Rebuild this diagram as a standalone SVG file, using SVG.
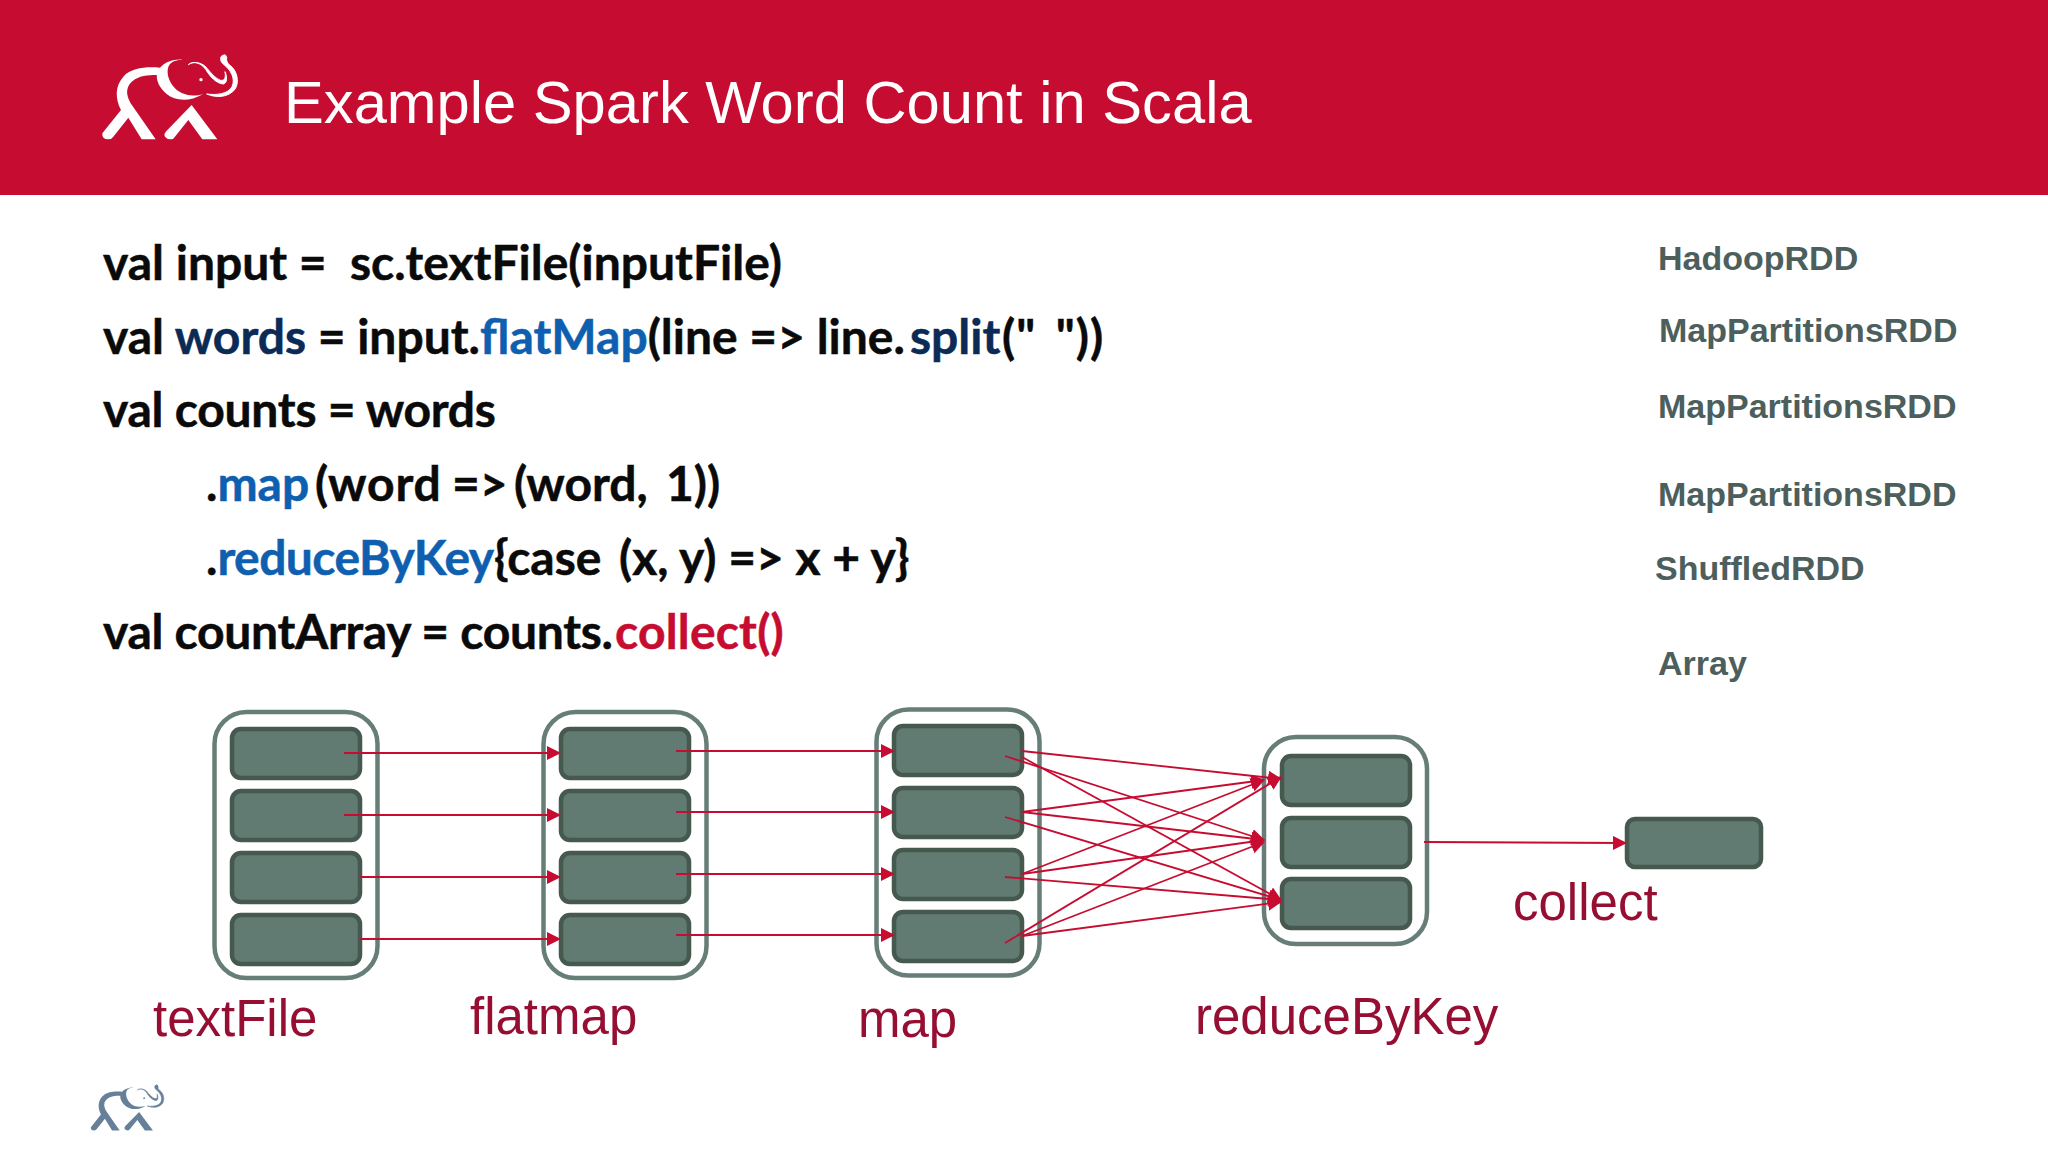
<svg xmlns="http://www.w3.org/2000/svg" width="2048" height="1152" viewBox="0 0 2048 1152">
<style>
.code{font-family:Lato,"Liberation Sans",sans-serif;font-weight:700;font-size:48px;fill:#0a0a0a;stroke:#0a0a0a;stroke-width:.5}
.blue{fill:#0f5fb0;stroke:#0f5fb0}.navy{fill:#0b2a55;stroke:#0b2a55}.red{fill:#c60c30;stroke:#c60c30}
.rdd{font-family:"Liberation Sans",Arial,sans-serif;font-weight:700;font-size:34px;fill:#4c5f5c}
.op{font-family:"Liberation Sans",Arial,sans-serif;font-size:51px;fill:#960f33}
.outer{fill:#fff;stroke:#667d78;stroke-width:4.5}
.inner{fill:#617a72;stroke:#46594f;stroke-width:4.5}
.c{stroke:#c60c30;stroke-width:1.8;fill:none;marker-end:url(#a)}
</style>
<defs>
<marker id="a" markerUnits="userSpaceOnUse" markerWidth="14" markerHeight="14" refX="13" refY="7" orient="auto"><path d="M0 0L14 7L0 14Z" fill="#c60c30"/></marker>
<g id="logo">
<path d="M300 143C260 140 215 142 190 170C165 198 165 235 183 270L127 340Q125 358 145 358Q155 358 160 350L205 293L245 358L287 358L212 250C195 220 198 195 225 178C245 165 275 165 300 165Z"/>
<path d="M367 119C335 117 305 130 292 155C285 180 300 205 320 222C345 242 385 248 430 222C395 232 365 225 345 205C325 185 315 150 330 132C340 122 352 120 367 119Z"/>
<path d="M395 255L472 358L427 358L385 300L340 356Q325 362 315 350Q310 342 320 332Z"/>
<path d="M385 134C400 122 422 128 437 148C450 170 468 190 490 192C502 190 502 170 495 155C498 172 495 183 482 181C465 175 450 155 437 140C420 125 397 124 385 134Z" stroke="currentColor" stroke-width="3"/>
<path d="M483 110Q497 98 500 112Q498 128 510 136C530 150 540 185 525 208C505 232 470 235 440 222C470 226 505 222 516 200C528 175 510 148 493 135C482 126 480 118 483 110Z" stroke="currentColor" stroke-width="3"/>
<circle cx="423" cy="179" r="5"/>
</g>
</defs>
<rect width="2048" height="1152" fill="#fff"/>
<rect id="header" width="2048" height="195" fill="#c60c30"/>
<use href="#logo" fill="#fff" color="#fff" transform="translate(60 20) scale(.3333)"/>
<text x="284" y="123" font-family="Liberation Sans,Arial,sans-serif" font-size="59.7" fill="#fff">Example Spark Word Count in Scala</text>
<use href="#logo" fill="#66809a" color="#66809a" transform="translate(68 1066) scale(.18)"/>

<g id="code">
<text class="code" x="103" y="280" xml:space="preserve">val input =  sc.textFile(inputFile)</text>
<text class="code" x="103" y="354">val <tspan class="navy">words</tspan> = input.<tspan class="blue">flatMap</tspan>(line =&gt; line.<tspan class="navy" x="910">split</tspan><tspan x="1002" word-spacing="7" letter-spacing="1">(" "))</tspan></text>
<text class="code" x="103" y="427" letter-spacing="-.25">val counts = words</text>
<text class="code" x="206" y="501">.<tspan class="blue">map</tspan><tspan x="315" letter-spacing=".8">(word</tspan> <tspan x="452">=&gt;</tspan> <tspan x="514">(word,</tspan> <tspan x="666">1))</tspan></text>
<text class="code" x="206" y="575">.<tspan class="blue" letter-spacing="-.55">reduceByKey</tspan><tspan x="494">{case</tspan> <tspan x="619">(x, y) =&gt; x + y}</tspan></text>
<text class="code" x="103" y="649"><tspan letter-spacing="-.3">val countArray = counts.</tspan><tspan class="red" x="615" letter-spacing=".2">collect()</tspan></text>
</g>
<g id="rdd-labels">
<text class="rdd" x="1658" y="270">HadoopRDD</text>
<text class="rdd" x="1659" y="342">MapPartitionsRDD</text>
<text class="rdd" x="1658" y="418">MapPartitionsRDD</text>
<text class="rdd" x="1658" y="506">MapPartitionsRDD</text>
<text class="rdd" x="1655" y="580">ShuffledRDD</text>
<text class="rdd" x="1658" y="675">Array</text>
</g>
<g id="textFile">
<rect class="outer" x="214.500" y="712" width="163" height="266" rx="32"/>
<rect class="inner" x="232" y="729" width="128" height="49" rx="9"/>
<rect class="inner" x="232" y="791" width="128" height="49" rx="9"/>
<rect class="inner" x="232" y="853" width="128" height="49" rx="9"/>
<rect class="inner" x="232" y="915" width="128" height="49" rx="9"/>
<text class="op" x="153" y="1036">textFile</text>
</g>
<g id="flatmap">
<rect class="outer" x="543.500" y="712" width="163" height="266" rx="32"/>
<rect class="inner" x="561" y="729" width="128" height="49" rx="9"/>
<rect class="inner" x="561" y="791" width="128" height="49" rx="9"/>
<rect class="inner" x="561" y="853" width="128" height="49" rx="9"/>
<rect class="inner" x="561" y="915" width="128" height="49" rx="9"/>
<text class="op" x="470" y="1034">flatmap</text>
</g>
<g id="map">
<rect class="outer" x="876.500" y="709.500" width="163" height="266" rx="32"/>
<rect class="inner" x="894" y="726" width="128" height="49" rx="9"/>
<rect class="inner" x="894" y="788" width="128" height="49" rx="9"/>
<rect class="inner" x="894" y="850" width="128" height="49" rx="9"/>
<rect class="inner" x="894" y="912" width="128" height="49" rx="9"/>
<text class="op" x="858" y="1037">map</text>
</g>
<g id="reduceByKey">
<rect class="outer" x="1264" y="737" width="163" height="207" rx="32"/>
<rect class="inner" x="1282" y="756" width="128" height="49" rx="9"/>
<rect class="inner" x="1282" y="818" width="128" height="49" rx="9"/>
<rect class="inner" x="1282" y="879" width="128" height="49" rx="9"/>
<text class="op" x="1195" y="1034">reduceByKey</text>
</g>
<g id="collect">
<rect class="inner" x="1627" y="819" width="134" height="48" rx="8"/>
<text class="op" x="1513" y="920">collect</text>
</g>
<g id="connectors">
<path class="c" d="M344 753H560"/><path class="c" d="M344 815H560"/><path class="c" d="M360 877H560"/><path class="c" d="M360 939H560"/>
<path class="c" d="M676 751H894"/><path class="c" d="M676 812H894"/><path class="c" d="M676 874H894"/><path class="c" d="M676 935H894"/>
<path class="c" d="M1022 751L1281 779"/>
<path class="c" d="M1005 756L1264 840"/>
<path class="c" d="M1022 757L1281 900"/>
<path class="c" d="M1022 812L1264 780"/>
<path class="c" d="M1022 812L1264 840"/>
<path class="c" d="M1005 817L1281 900"/>
<path class="c" d="M1022 874L1264 780"/>
<path class="c" d="M1022 874L1264 840"/>
<path class="c" d="M1005 877L1281 900"/>
<path class="c" d="M1005 943L1281 777"/>
<path class="c" d="M1022 936L1264 842"/>
<path class="c" d="M1022 936L1281 902"/>
<path class="c" d="M1424 842L1626 843"/>
</g>
</svg>
